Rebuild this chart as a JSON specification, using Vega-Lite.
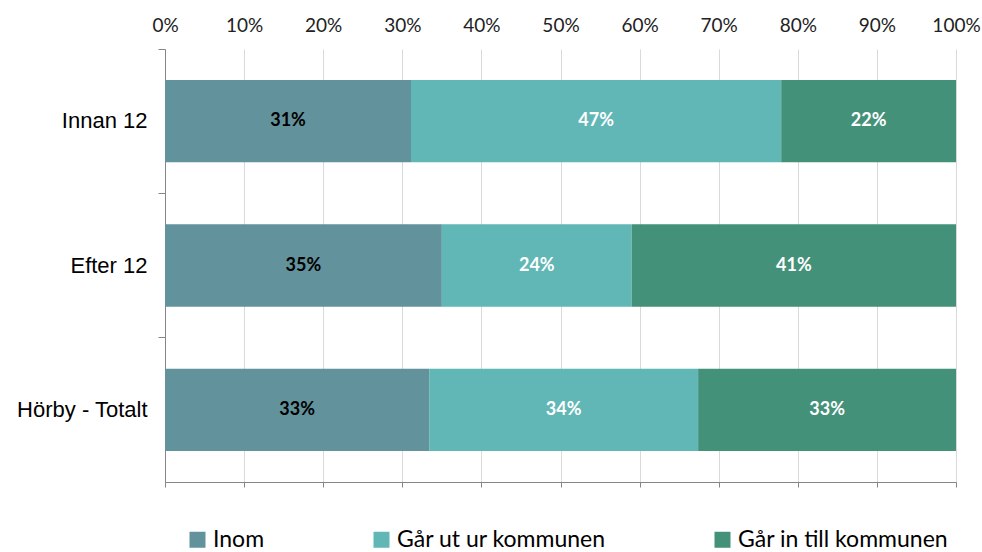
{
  "$schema": "https://vega.github.io/schema/vega-lite/v6.json",
  "width": 791,
  "height": 433,
  "autosize": {"type": "none"},
  "padding": {"left": 165, "top": 49, "right": 26, "bottom": 70},
  "background": "white",
  "config": {"view": {"stroke": null}},
  "data": {
    "values": [
      {"cat": "Innan 12", "serie": "Inom", "order": 1, "value": 0.311},
      {"cat": "Innan 12", "serie": "Går ut ur kommunen", "order": 2, "value": 0.468},
      {"cat": "Innan 12", "serie": "Går in till kommunen", "order": 3, "value": 0.221},
      {"cat": "Efter 12", "serie": "Inom", "order": 1, "value": 0.350},
      {"cat": "Efter 12", "serie": "Går ut ur kommunen", "order": 2, "value": 0.240},
      {"cat": "Efter 12", "serie": "Går in till kommunen", "order": 3, "value": 0.410},
      {"cat": "Hörby - Totalt", "serie": "Inom", "order": 1, "value": 0.334},
      {"cat": "Hörby - Totalt", "serie": "Går ut ur kommunen", "order": 2, "value": 0.340},
      {"cat": "Hörby - Totalt", "serie": "Går in till kommunen", "order": 3, "value": 0.326}
    ]
  },
  "transform": [
    {"stack": "value", "groupby": ["cat"], "sort": [{"field": "order", "order": "ascending"}], "as": ["v0", "v1"]},
    {"calculate": "(datum.v0 + datum.v1) / 2", "as": "mid"}
  ],
  "encoding": {
    "y": {
      "field": "cat",
      "type": "nominal",
      "sort": ["Innan 12", "Efter 12", "Hörby - Totalt"],
      "scale": {"paddingInner": 0, "paddingOuter": 0},
      "axis": {
        "title": null,
        "orient": "left",
        "bandPosition": 0,
        "domain": true,
        "domainColor": "#868686",
        "ticks": true,
        "tickColor": "#868686",
        "tickSize": 7,
        "labelPadding": 11,
        "labelFont": "Liberation Sans",
        "labelFontSize": 22,
        "labelColor": "#000000",
        "grid": false
      }
    }
  },
  "layer": [
    {
      "mark": {"type": "bar", "height": {"band": 0.57}},
      "encoding": {
        "x": {
          "field": "v0",
          "type": "quantitative",
          "scale": {"domain": [0, 1], "nice": false},
          "axis": {
            "orient": "top",
            "title": null,
            "format": ".0%",
            "values": [0, 0.1, 0.2, 0.3, 0.4, 0.5, 0.6, 0.7, 0.8, 0.9, 1],
            "domain": false,
            "ticks": false,
            "grid": true,
            "gridColor": "#d9d9d9",
            "labelFont": "Lato",
            "labelFontSize": 19,
            "labelColor": "#222222",
            "labelPadding": 14,
            "labelFlush": false,
            "labelBound": false,
            "labelOverlap": false
          }
        },
        "x2": {"field": "v1"},
        "color": {
          "field": "serie",
          "type": "nominal",
          "scale": {
            "domain": ["Inom", "Går ut ur kommunen", "Går in till kommunen"],
            "range": ["#62929B", "#61B7B5", "#44917A"]
          },
          "legend": {
            "title": null,
            "orient": "none",
            "direction": "horizontal",
            "legendX": 21,
            "legendY": 479,
            "symbolType": "square",
            "symbolSize": 256,
            "symbolStrokeWidth": 0,
            "labelFont": "Lato",
            "labelFontSize": 23,
            "labelColor": "#000000",
            "labelOffset": 4,
            "columnPadding": 105,
            "labelLimit": 400
          }
        }
      }
    },
    {
      "mark": {"type": "text", "font": "Lato", "fontWeight": "bold", "fontSize": 18},
      "encoding": {
        "x": {
          "field": "mid",
          "type": "quantitative",
          "axis": {
            "orient": "bottom",
            "title": null,
            "labels": false,
            "values": [0, 0.1, 0.2, 0.3, 0.4, 0.5, 0.6, 0.7, 0.8, 0.9, 1],
            "grid": false,
            "domain": true,
            "domainColor": "#868686",
            "ticks": true,
            "tickColor": "#868686",
            "tickSize": 5
          }
        },
        "text": {"field": "value", "type": "quantitative", "format": ".0%"},
        "color": {
          "condition": {"test": "datum.serie === 'Inom'", "value": "#000000"},
          "value": "#ffffff"
        }
      }
    }
  ],
  "resolve": {"axis": {"x": "independent"}}
}
